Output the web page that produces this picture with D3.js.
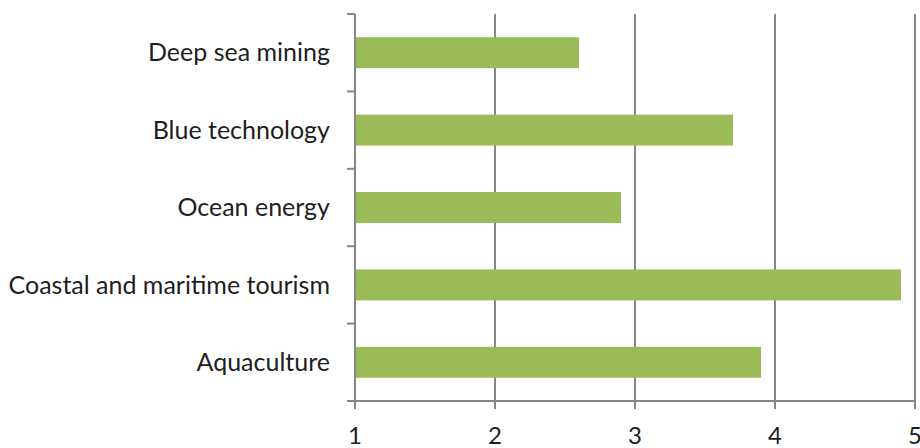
<!DOCTYPE html>
<html>
<head>
<meta charset="utf-8">
<script src="https://cdn.jsdelivr.net/npm/d3@7"></script>
<style>
  html, body { margin: 0; padding: 0; background: #fff; }
  svg { display: block; }
</style>
</head>
<body>
<svg id="chart" width="920" height="448"></svg>
<script>
// Sectors, listed top to bottom
const categories = ["Deep sea mining", "Blue technology", "Ocean energy", "Coastal and maritime tourism", "Aquaculture"];
const values = [2.6, 3.7, 2.9, 4.9, 3.9];
const xTicks = [1, 2, 3, 4, 5];

const plotLeft = 355, plotRight = 915, plotTop = 14, plotBottom = 401;
const gridColor = "#868686";
const barColor = "#9BBB59";
const font = "Lato, 'Open Sans', sans-serif";

const svg = d3.select("#chart");

const x = d3.scaleLinear().domain([1, 5]).range([plotLeft, plotRight]);
const y = d3.scaleBand().domain(categories).range([plotTop, plotBottom])
  .paddingInner(0.6).paddingOuter(0.3);
const step = y.step();

// vertical gridlines
svg.append("g").selectAll("line")
  .data(xTicks.slice(1))
  .join("line")
  .attr("x1", d => x(d)).attr("x2", d => x(d))
  .attr("y1", plotTop).attr("y2", plotBottom)
  .attr("stroke", gridColor).attr("stroke-width", 2);

// bars
svg.append("g").selectAll("rect")
  .data(categories.map((c, i) => ({ c, v: values[i] })))
  .join("rect")
  .attr("x", x(1))
  .attr("y", d => y(d.c))
  .attr("width", d => x(d.v) - x(1))
  .attr("height", y.bandwidth())
  .attr("fill", barColor);

// category axis line and tick marks at band boundaries
const boundaries = d3.range(categories.length + 1).map(i => plotTop + i * step);
const gy = svg.append("g");
gy.append("line")
  .attr("x1", plotLeft).attr("x2", plotLeft)
  .attr("y1", plotTop).attr("y2", plotBottom)
  .attr("stroke", gridColor).attr("stroke-width", 2);
gy.selectAll("line.tick")
  .data(boundaries)
  .join("line").attr("class", "tick")
  .attr("x1", plotLeft - 8).attr("x2", plotLeft)
  .attr("y1", d => d).attr("y2", d => d)
  .attr("stroke", gridColor).attr("stroke-width", 2);
gy.selectAll("text")
  .data(categories)
  .join("text")
  .attr("x", plotLeft - 25)
  .attr("y", d => y(d) + y.bandwidth() / 2)
  .attr("dy", "0.35em")
  .attr("text-anchor", "end")
  .attr("font-family", font)
  .attr("font-size", 25)
  .attr("fill", "#1e1e1e")
  .text(d => d);

// value axis
const gx = svg.append("g");
gx.append("line")
  .attr("x1", plotLeft - 8).attr("x2", plotRight)
  .attr("y1", plotBottom).attr("y2", plotBottom)
  .attr("stroke", gridColor).attr("stroke-width", 2);
gx.selectAll("line.tick")
  .data(xTicks)
  .join("line").attr("class", "tick")
  .attr("x1", d => x(d)).attr("x2", d => x(d))
  .attr("y1", plotBottom).attr("y2", plotBottom + 8)
  .attr("stroke", gridColor).attr("stroke-width", 2);
gx.selectAll("text")
  .data(xTicks)
  .join("text")
  .attr("x", d => x(d))
  .attr("y", 444)
  .attr("text-anchor", "middle")
  .attr("font-family", font)
  .attr("font-size", 24)
  .attr("fill", "#1e1e1e")
  .text(d => d3.format("d")(d));
</script>
</body>
</html>
